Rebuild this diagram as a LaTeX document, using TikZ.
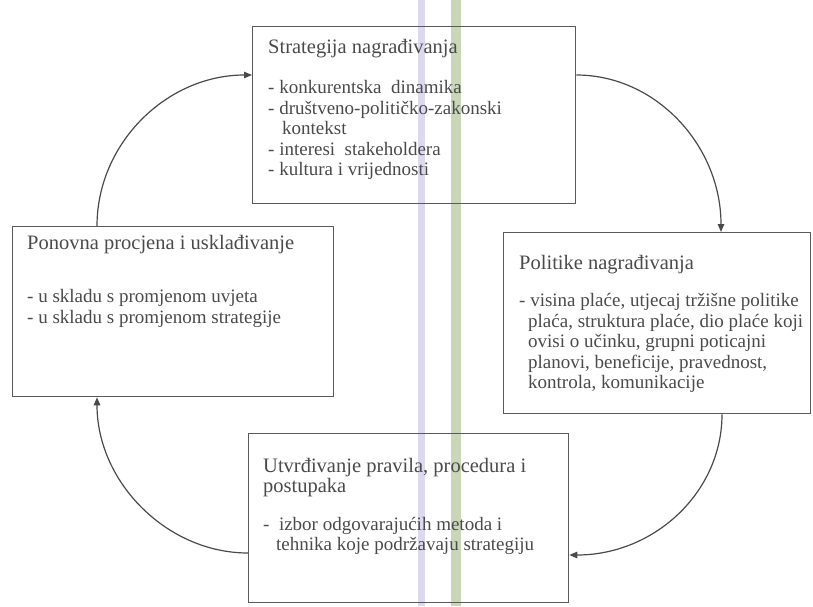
\documentclass[tikz,border=0pt]{standalone}
\usepackage{fontspec}
\setmainfont{Liberation Serif}
\usepackage{xcolor}
\usepackage{tikz}
\usetikzlibrary{arrows.meta,positioning}

\definecolor{scanink}{HTML}{4A4A4A}
\definecolor{scanline}{HTML}{5A5A5A}
\definecolor{bandpurple}{HTML}{DCD8EE}
\definecolor{bandgreen}{HTML}{C9D7B8}

\newcommand{\boxtitle}[1]{{\fontsize{20.5}{20.5}\selectfont #1}}

\begin{document}
\begin{tikzpicture}[
    x=1pt, y=-1pt,
    font=\fontsize{19}{20.5}\selectfont,
    box/.style={draw=scanline, line width=1.3pt, rectangle, anchor=north west, inner sep=0pt},
    boxtext/.style={anchor=north west, inner sep=0pt, align=left, text=scanink},
    arrow/.style={-{Triangle[length=8pt,width=6.5pt]}, line width=1.2pt, draw=scanink}
]
    \useasboundingbox (0,0) rectangle (813,606);

    % Scan stripes
    \fill[bandpurple] (418,0) rectangle (425,606);
    \fill[bandgreen] (451,0) rectangle (461,606);

    % Boxes
    \node[box, minimum width=323pt, minimum height=177pt] (strat) at (252,26) {};
    \node[box, minimum width=307pt, minimum height=181pt] (polit) at (503,232) {};
    \node[box, minimum width=320pt, minimum height=169pt] (pravila) at (248,433) {};
    \node[box, minimum width=321pt, minimum height=170pt] (ponov) at (12,226) {};

    % Box texts
    \node[boxtext] (strattxt) at (268,39) {\boxtitle{Strategija nagrađivanja}\\[20pt]
        - konkurentska\ \ dinamika\\
        - društveno-političko-zakonski\\
        \hspace{14pt}kontekst\\
        - interesi\ \ stakeholdera\\
        - kultura i vrijednosti};
    \node[boxtext] (polittxt) at (519,255) {\boxtitle{Politike nagrađivanja}\\[17pt]
        - visina plaće, utjecaj tržišne politike\\
        \hspace{9pt}plaća, struktura plaće, dio plaće koji\\
        \hspace{9pt}ovisi o učinku, grupni poticajni\\
        \hspace{9pt}planovi, beneficije, pravednost,\\
        \hspace{9pt}kontrola, komunikacije};
    \node[boxtext] (pravilatxt) at (263,458) {\boxtitle{Utvrđivanje pravila, procedura i}\\
        \boxtitle{postupaka}\\[17pt]
        -\ \ izbor odgovarajućih metoda i\\
        \hspace{13pt}tehnika koje podržavaju strategiju};
    \node[boxtext] (ponovtxt) at (27,235) {\boxtitle{Ponovna procjena i usklađivanje}\\[33pt]
        - u skladu s promjenom uvjeta\\
        - u skladu s promjenom strategije};

    % Cycle arrows
    \draw[arrow] ([xshift=85pt]ponov.north west) .. controls +(0,-83) and +(-85,0) .. ([yshift=-49pt]strat.north west);
    \draw[arrow] ([yshift=-49pt]strat.north east) .. controls +(80,0) and +(0,-86) .. ([xshift=218pt]polit.north west);
    \draw[arrow] ([xshift=219pt]polit.south west) .. controls +(0,78) and +(85,0) .. ([yshift=-122pt]pravila.north east);
    \draw[arrow] ([yshift=-120pt]pravila.north west) .. controls +(-81,0) and +(0,85) .. ([xshift=85pt]ponov.south west);

\end{tikzpicture}
\end{document}
